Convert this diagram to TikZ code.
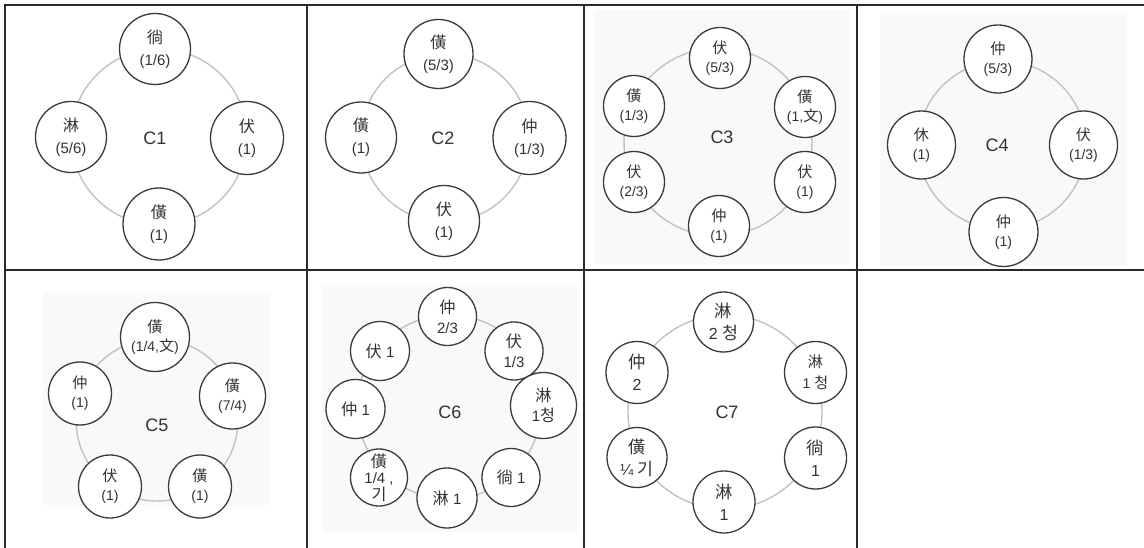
\documentclass[tikz,border=0pt]{standalone}
\usepackage{fontspec}
\setmainfont{Liberation Sans}
\newfontfamily\cjk[Scale=1.08]{Noto Sans CJK KR}
\definecolor{gridc}{HTML}{2A2A2A}
\definecolor{ringc}{HTML}{C2C2C2}
\definecolor{nodec}{HTML}{3A3A3A}
\definecolor{textc}{HTML}{333333}
\definecolor{bgc}{HTML}{F9F9F9}
\newcommand{\hz}[1]{{\cjk #1}}
\tikzset{
  grid/.style={draw=gridc, line width=1.8pt},
  ring/.style={draw=ringc, line width=1.4pt},
  nd/.style={circle, draw=nodec, line width=1.3pt, fill=white, inner sep=0pt, align=center, text=textc},
  lbl/.style={text=textc, font=\fontsize{18}{20}\selectfont},
  fa/.style={font=\fontsize{15}{22}\selectfont},
  fb/.style={font=\fontsize{14}{19}\selectfont},
  fc/.style={font=\fontsize{15}{20}\selectfont},
  fd/.style={font=\fontsize{16}{22}\selectfont},
}
\begin{document}
\begin{tikzpicture}[x=1pt, y=-1pt]
\useasboundingbox (0,0) rectangle (1144,548);
\fill[white] (0,0) rectangle (1144,548);
% faint image backgrounds
\fill[bgc] (595,10) rectangle (850,265);
\fill[bgc] (880,13) rectangle (1127,266);
\fill[bgc] (43,293) rectangle (270,505);
\fill[bgc] (322,285) rectangle (577,532);
% table grid
\draw[grid] (4,5) -- (1144,5);
\draw[grid] (5,4) -- (5,548);
\draw[grid] (5,270) -- (1144,270);
\draw[grid] (307,5) -- (307,548);
\draw[grid] (584,5) -- (584,548);
\draw[grid] (857,5) -- (857,548);

% ---------- C1
\coordinate (r1) at (159,137);
\draw[ring] (r1) circle[radius=88pt];
\node[nd, fa, minimum size=71pt] (c1a) at (155,49) {\hz{徜}\\(1/6)};
\node[nd, fa, minimum size=71pt] (c1b) at (71,137) {\hz{淋}\\(5/6)};
\node[nd, fa, minimum size=73pt] (c1c) at (247,138) {\hz{伏}\\(1)};
\node[nd, fa, minimum size=72pt] (c1d) at (159,224) {\hz{僙}\\(1)};
\node[lbl] (c1l) at (155,138) {C1};

% ---------- C2
\coordinate (r2) at (445,138);
\draw[ring] (r2) circle[radius=84pt];
\node[nd, fa, minimum size=69pt] (c2a) at (438.5,54) {\hz{僙}\\(5/3)};
\node[nd, fa, minimum size=71pt] (c2b) at (361,137.5) {\hz{僙}\\(1)};
\node[nd, fa, minimum size=73pt] (c2c) at (529.5,138) {\hz{仲}\\(1/3)};
\node[nd, fa, minimum size=71pt] (c2d) at (444,221) {\hz{伏}\\(1)};
\node[lbl] (c2l) at (443,138) {C2};

% ---------- C3
\coordinate (r3) at (718,142);
\draw[ring] (r3) circle[radius=94pt];
\node[nd, fb, minimum size=61pt] (c3a) at (720,58) {\hz{伏}\\(5/3)};
\node[nd, fb, minimum size=61pt] (c3b) at (634,106) {\hz{僙}\\(1/3)};
\node[nd, fb, minimum size=61pt] (c3c) at (805,107) {\hz{僙}\\(1,\hz{文})};
\node[nd, fb, minimum size=61pt] (c3d) at (634,182) {\hz{伏}\\(2/3)};
\node[nd, fb, minimum size=61pt] (c3e) at (805,182) {\hz{伏}\\(1)};
\node[nd, fb, minimum size=61pt] (c3f) at (719,226) {\hz{仲}\\(1)};
\node[lbl] (c3l) at (722,137) {C3};

% ---------- C4
\coordinate (r4) at (1002,145);
\draw[ring] (r4) circle[radius=84pt];
\node[nd, fb, minimum size=68pt] (c4a) at (998,59) {\hz{仲}\\(5/3)};
\node[nd, fb, minimum size=68pt] (c4b) at (921.5,145) {\hz{休}\\(1)};
\node[nd, fb, minimum size=68pt] (c4c) at (1083.5,145) {\hz{伏}\\(1/3)};
\node[nd, fb, minimum size=69pt] (c4d) at (1003.5,232) {\hz{仲}\\(1)};
\node[lbl] (c4l) at (997,145) {C4};

% ---------- C5
\coordinate (r5) at (157,420);
\draw[ring] (r5) circle[radius=81pt];
\node[nd, fb, minimum size=69pt] (c5a) at (155,337) {\hz{僙}\\(1/4,\hz{文})};
\node[nd, fb, minimum size=63pt] (c5b) at (80,393.5) {\hz{仲}\\(1)};
\node[nd, fb, minimum size=66pt] (c5c) at (232.5,396) {\hz{僙}\\(7/4)};
\node[nd, fb, minimum size=63pt] (c5d) at (110,486.5) {\hz{伏}\\(1)};
\node[nd, fb, minimum size=63pt] (c5e) at (200,486.5) {\hz{僙}\\(1)};
\node[lbl] (c5l) at (157,425) {C5};

% ---------- C6
\coordinate (r6) at (449,407);
\draw[ring] (r6) circle[radius=92pt];
\node[nd, fc, minimum size=58pt] (c6a) at (447.5,316.5) {\hz{仲}\\2/3};
\node[nd, fc, minimum size=58pt] (c6b) at (514,351) {\hz{伏}\\1/3};
\node[nd, fc, minimum size=66pt] (c6c) at (543.5,405.5) {\hz{淋}\\1\hz{청}};
\node[nd, fc, minimum size=58pt] (c6d) at (511,477.5) {\hz{徜} 1};
\node[nd, fc, minimum size=60pt] (c6e) at (447,498) {\hz{淋} 1};
\node[nd, fc, minimum size=57pt, font=\fontsize{15}{16.5}\selectfont] (c6f) at (379,477.5) {\hz{僙}\\1/4 ,\\\hz{기}};
\node[nd, fc, minimum size=59pt] (c6g) at (355.5,409) {\hz{仲} 1};
\node[nd, fc, minimum size=59pt] (c6h) at (380,351) {\hz{伏} 1};
\node[lbl] (c6l) at (450,412) {C6};

% ---------- C7
\coordinate (r7) at (725,412);
\draw[ring] (r7) circle[radius=97pt];
\node[nd, fd, minimum size=60pt] (c7a) at (723.5,322) {\hz{淋}\\2 \hz{청}};
\node[nd, fd, minimum size=62pt, font=\fontsize{14}{21}\selectfont] (c7b) at (815.5,372.5) {\hz{淋}\\1 \hz{청}};
\node[nd, fd, minimum size=62pt] (c7c) at (815.5,458) {\hz{徜}\\1};
\node[nd, fd, minimum size=62pt] (c7d) at (724,502) {\hz{淋}\\1};
\node[nd, fd, minimum size=60pt] (c7e) at (637,457.5) {\hz{僙}\\¼ \hz{기}};
\node[nd, fd, minimum size=62pt] (c7f) at (637,372.5) {\hz{仲}\\2};
\node[lbl] (c7l) at (727,412) {C7};
\end{tikzpicture}
\end{document}
